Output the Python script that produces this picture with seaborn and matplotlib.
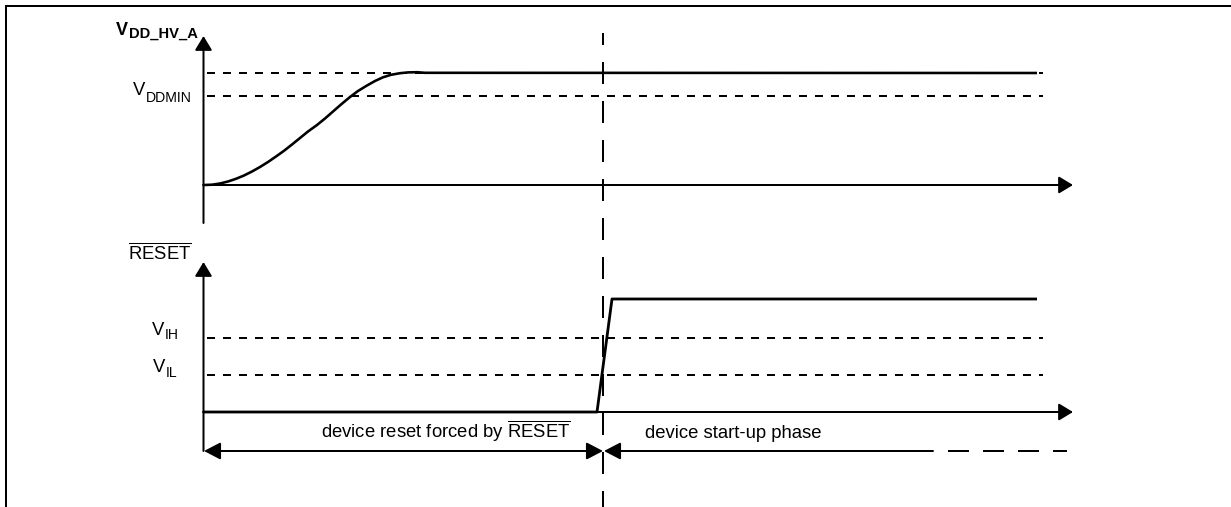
import matplotlib
matplotlib.use("Agg")
import matplotlib.pyplot as plt
import seaborn as sns
import pandas as pd

# ---------------- data (pixel space) ----------------
supply_x = [204, 212, 220, 228, 236, 244, 252, 260, 268, 276, 284, 292, 300, 308,
            317, 325, 333, 341, 350, 358, 367, 375, 383, 391, 400, 408, 417, 425, 1037]
supply_y = [185, 184.7, 183.5, 181.5, 178.8, 175.5, 171.5, 167, 162, 156.5, 150.8,
            144.5, 138, 131.5, 125, 118.5, 111.5, 104.5, 97, 91, 85.5, 81, 77.3, 74.8,
            73.2, 72.4, 72.2, 72.8, 73]
reset_x = [203, 597, 612, 1037]
reset_y = [412, 412, 299, 299]

top_thresholds = [73, 96]          # upper dashed level, V_DDMIN
low_thresholds = [338, 375]        # V_IH, V_IL
thr_x = [207, 1043]

top_axis = dict(x=203.5, bottom=223, tip=36, base_y=185, right_tip=1073)
low_axis = dict(x=203.5, bottom=451, tip=262, base_y=412, right_tip=1073)
marker_x = 603
marker_y = [33, 507]
phase_y = 451
phase_left = [204, 603]
phase_right = [933, 604]
phase_dash = [948, 1067]

labels_main = ["V", "V", "V"]
labels_sub = ["DDMIN", "IH", "IL"]
label_x = [133, 152, 153]
label_base = [95, 335, 372]
label_sub_base = [102, 339, 377]
phase_texts = ["device reset forced by $\\overline{\\mathrm{RESET}}$", "device start-up phase"]

# ---------------- style ----------------
sns.set_theme(style="white")
plt.rcParams['font.family'] = ['Liberation Sans', 'DejaVu Sans']
plt.rcParams['mathtext.fontset'] = 'custom'
plt.rcParams['mathtext.rm'] = 'Liberation Sans'
plt.rcParams['mathtext.it'] = 'Liberation Sans'
plt.rcParams['mathtext.bf'] = 'Liberation Sans:bold'
plt.rcParams['lines.scale_dashes'] = False
plt.rcParams['lines.solid_capstyle'] = 'butt'
plt.rcParams['lines.dash_capstyle'] = 'butt'
plt.rcParams['lines.solid_joinstyle'] = 'round'

W, H = 1231, 507
PT = 0.72  # pixels -> points at dpi 100
fig = plt.figure(figsize=(W / 100, H / 100), dpi=100)
ax = fig.add_axes([0, 0, 1, 1])
ax.set_xlim(0, W)
ax.set_ylim(H, 0)
ax.axis('off')

K = 'black'
FS = 13.3
FS_SUB = 10.1

# frame (top and left only)
ax.plot([5, W], [6, 6], color=K, lw=2 * PT)
ax.plot([6, 6], [6, H], color=K, lw=2 * PT)

# arrow helper
def arrow(x0, y0, x1, y1, style="-|>", lw=2 * PT, hl=0.86, hw=0.52):
    ax.annotate("", xy=(x1, y1), xytext=(x0, y0), xycoords='data',
                arrowprops=dict(arrowstyle=f"{style},head_length={hl},head_width={hw}",
                                color=K, lw=lw, shrinkA=0, shrinkB=0,
                                mutation_scale=10))

# axes
for a in (top_axis, low_axis):
    arrow(a['x'], a['bottom'], a['x'], a['tip'])
    arrow(a['x'] - 0.5, a['base_y'], a['right_tip'], a['base_y'])

# thresholds
for y in top_thresholds + low_thresholds:
    ax.plot(thr_x, [y, y], color=K, lw=2 * PT, linestyle=(0, (8 * PT, 8 * PT)))

# signals
df_s = pd.DataFrame({"x": supply_x, "y": supply_y})
sns.lineplot(data=df_s, x="x", y="y", ax=ax, color=K, linewidth=2.6 * PT,
             estimator=None, sort=False)
df_r = pd.DataFrame({"x": reset_x, "y": reset_y})
sns.lineplot(data=df_r, x="x", y="y", ax=ax, color=K, linewidth=2.8 * PT,
             estimator=None, sort=False)

# vertical marker
ax.plot([marker_x, marker_x], marker_y, color=K, lw=2 * PT,
        linestyle=(10 * PT, (22 * PT, 17 * PT)))

# phase arrows
arrow(phase_left[0], phase_y, phase_left[1], phase_y, style="<|-|>", hl=1.0, hw=0.52)
arrow(phase_right[0], phase_y, phase_right[1], phase_y, hl=1.0, hw=0.52)
ax.plot(phase_dash, [phase_y, phase_y], color=K, lw=2 * PT,
        linestyle=(0, (21 * PT, 14 * PT)))

# axis titles
ax.text(116, 35, "V", fontsize=13, fontweight='bold', ha='left', va='baseline', color=K)
ax.text(129, 38, "DD_HV_A", fontsize=10.6, fontweight='bold', ha='left', va='baseline', color=K)
ax.text(128, 259, "$\\overline{\\mathrm{RESET}}$", fontsize=FS, ha='left', va='baseline', color=K)

for m, s, x, b, sb in zip(labels_main, labels_sub, label_x, label_base, label_sub_base):
    ax.text(x, b, m, fontsize=FS, ha='left', va='baseline', color=K)
    ax.text(x + 13, sb, s, fontsize=FS_SUB, ha='left', va='baseline', color=K)

ax.text(446, 438, phase_texts[0], fontsize=FS, ha='center', va='baseline', color=K)
ax.text(645, 438, phase_texts[1], fontsize=FS, ha='left', va='baseline', color=K)

fig.savefig("out.png", dpi=100)
